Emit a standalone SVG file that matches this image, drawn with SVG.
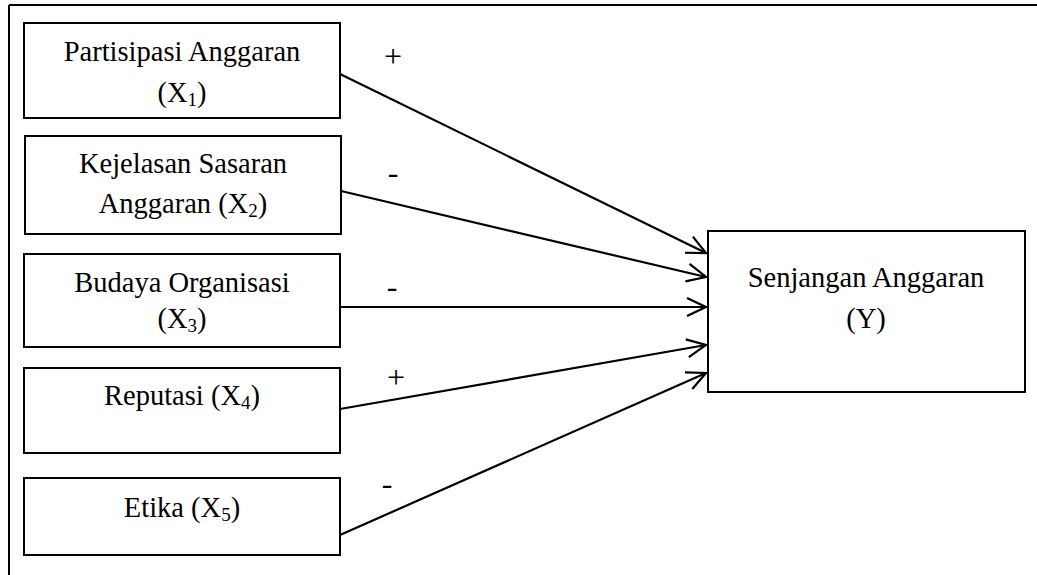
<svg xmlns="http://www.w3.org/2000/svg" width="1037" height="575" viewBox="0 0 1037 575">
<style>
.box{fill:#fff;stroke:#000;stroke-width:2}
.t{font-family:"Liberation Serif","Times New Roman",serif;font-size:28.5px;fill:#000;text-anchor:middle}
.sub{font-size:19px}
.sign{font-family:"Liberation Serif","Times New Roman",serif;font-size:32px;fill:#000;text-anchor:middle}
.c{stroke:#000;stroke-width:2.2;fill:none}
</style>
<defs>
<marker id="ah" markerUnits="userSpaceOnUse" markerWidth="30" markerHeight="30" viewBox="-25 -15 30 30" refX="0" refY="0" orient="auto">
<path d="M-19,-9 L0,0 L-19,9" fill="none" stroke="#000" stroke-width="2.2"/>
</marker>
</defs>
<g id="frame">
<path d="M9,5 H1037 M9,5 V575" stroke="#000" stroke-width="2" fill="none"/>
</g>
<g id="x1">
<rect class="box" x="24" y="23" width="316" height="95"/>
<text class="t" x="182" y="61">Partisipasi Anggaran</text>
<text class="t" x="182" y="102">(X<tspan class="sub" dy="4">1</tspan><tspan dy="-4">)</tspan></text>
</g>
<g id="x2">
<rect class="box" x="25" y="136" width="316" height="98"/>
<text class="t" x="183" y="173">Kejelasan Sasaran</text>
<text class="t" x="183" y="213">Anggaran (X<tspan class="sub" dy="4">2</tspan><tspan dy="-4">)</tspan></text>
</g>
<g id="x3">
<rect class="box" x="24" y="254" width="316" height="93"/>
<text class="t" x="182" y="292">Budaya Organisasi</text>
<text class="t" x="182" y="328">(X<tspan class="sub" dy="4">3</tspan><tspan dy="-4">)</tspan></text>
</g>
<g id="x4">
<rect class="box" x="24" y="368" width="316" height="85"/>
<text class="t" x="182" y="405">Reputasi (X<tspan class="sub" dy="4">4</tspan><tspan dy="-4">)</tspan></text>
</g>
<g id="x5">
<rect class="box" x="24" y="478" width="316" height="77"/>
<text class="t" x="182" y="517">Etika (X<tspan class="sub" dy="4">5</tspan><tspan dy="-4">)</tspan></text>
</g>
<g id="y">
<rect class="box" x="708" y="231" width="317" height="161"/>
<text class="t" x="866" y="287">Senjangan Anggaran</text>
<text class="t" x="866" y="328">(Y)</text>
</g>
<g id="connectors">
<line class="c" x1="340" y1="74" x2="706" y2="253" marker-end="url(#ah)"/>
<line class="c" x1="341" y1="191" x2="706" y2="277" marker-end="url(#ah)"/>
<line class="c" x1="340" y1="307" x2="706" y2="307" marker-end="url(#ah)"/>
<line class="c" x1="340" y1="409" x2="706" y2="345" marker-end="url(#ah)"/>
<line class="c" x1="340" y1="535" x2="706" y2="373" marker-end="url(#ah)"/>
<text class="sign" x="393" y="67">+</text>
<text class="sign" x="393" y="183">-</text>
<text class="sign" x="392" y="297">-</text>
<text class="sign" x="396" y="388">+</text>
<text class="sign" x="387" y="494">-</text>
</g>
</svg>
